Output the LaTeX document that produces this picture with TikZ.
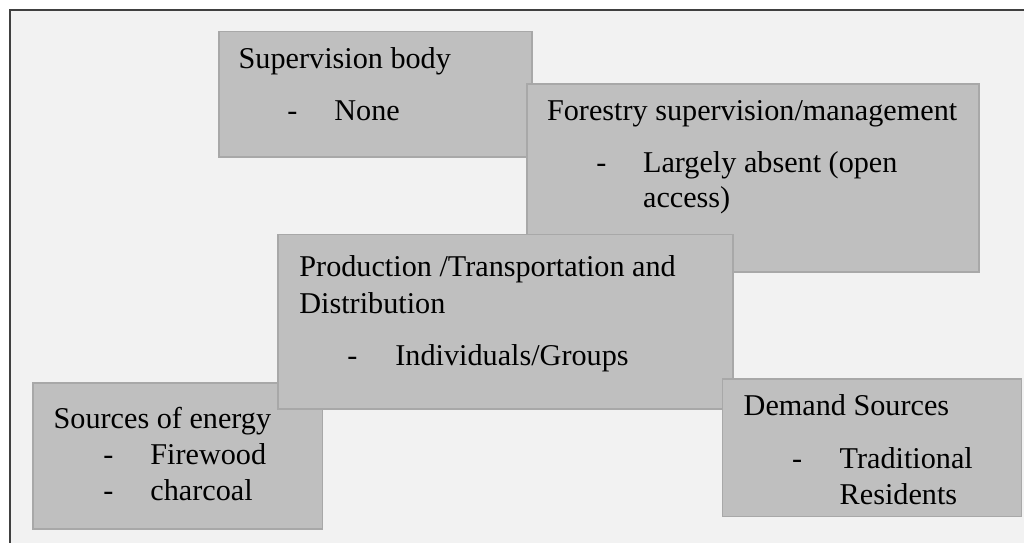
\documentclass[tikz,border=0pt]{standalone}
\usepackage{fontspec}
\setmainfont{Liberation Serif}
\definecolor{pagebg}{HTML}{F2F2F2}
\definecolor{framecol}{HTML}{404040}
\definecolor{boxfill}{HTML}{BFBFBF}
\definecolor{boxline}{HTML}{A8A8A8}

\begin{document}
\begin{tikzpicture}[x=0.5pt,y=-0.5pt,
  box/.style={draw=boxline, fill=boxfill, line width=0.6pt, inner sep=0pt, outer sep=0pt, anchor=north west},
  txt/.style={anchor=base west, inner sep=0pt, font=\fontsize{15.1}{17.5}\selectfont},
]
\useasboundingbox (0,0) rectangle (1024,542);
\clip (0,0) rectangle (1024,542);
\fill[white] (0,0) rectangle (1024,542);
% page frame
\draw[framecol, fill=pagebg, line width=1.2pt] (10,10) rectangle (1040,560);

% boxes, back to front
\node[box, minimum width=156.5pt, minimum height=62.75pt] (supbox) at (219,31.5) {};
\node[box, minimum width=226pt, minimum height=94pt] (forbox) at (527,84) {};
\node[box, minimum width=144.85pt, minimum height=73pt] (srcbox) at (33,383) {};
\node[box, minimum width=227.5pt, minimum height=87.15pt] (prodbox) at (278,234.7) {};
\node[box, minimum width=149.5pt, minimum height=68.85pt] (dembox) at (722.7,379) {};

% supervision body
\node[txt] (suphead) at (238.3,68) {Supervision body};
\node[txt] (supdash) at (287,120) {-};
\node[txt] (supitem) at (334,120) {None};

% forestry supervision
\node[txt] (forhead) at (546.7,120) {Forestry supervision/management};
\node[txt] (fordash) at (596,172.7) {-};
\node[txt] (foritema) at (642.7,172.7) {Largely absent (open};
\node[txt] (foritemb) at (642.7,207.7) {access)};

% production / transportation
\node[txt] (prodheada) at (299,276.7) {Production /Transportation and};
\node[txt] (prodheadb) at (299,313.3) {Distribution};
\node[txt] (proddash) at (347,365.7) {-};
\node[txt] (proditem) at (395,365.7) {Individuals/Groups};

% sources of energy
\node[txt] (srchead) at (53.3,428.3) {Sources of energy};
\node[txt] (srcdasha) at (103,464) {-};
\node[txt] (srcitema) at (150,464) {Firewood};
\node[txt] (srcdashb) at (103,500.7) {-};
\node[txt] (srcitemb) at (150,500.7) {charcoal};

% demand sources
\node[txt] (demhead) at (743.3,415) {Demand Sources};
\node[txt] (demdash) at (791.7,468.3) {-};
\node[txt] (demitema) at (839.3,468.3) {Traditional};
\node[txt] (demitemb) at (839.3,504) {Residents};
\end{tikzpicture}
\end{document}
